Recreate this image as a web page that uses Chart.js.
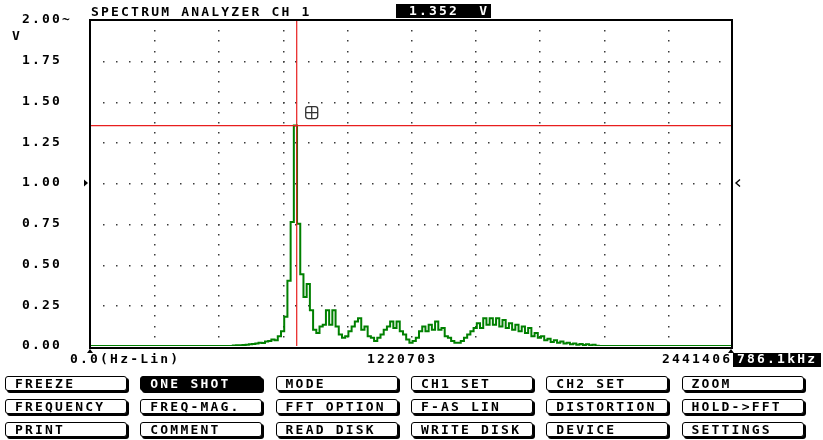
<!DOCTYPE html>
<html><head><meta charset="utf-8">
<script src="https://cdn.jsdelivr.net/npm/chart.js@4.4.1/dist/chart.umd.min.js"></script>
<style>
html,body{margin:0;padding:0;background:#fff;}
#wrap{position:relative;width:823px;height:440px;overflow:hidden;background:#fff;}
canvas{position:absolute;left:0;top:0;}
.t{position:absolute;font-family:'DejaVu Sans Mono',monospace;font-weight:bold;font-size:13px;letter-spacing:2.2px;color:#000;white-space:pre;line-height:14px;}
.inv{background:#000;color:#fff;}
.btn{position:absolute;box-sizing:border-box;width:122px;height:15px;border:1px solid #000;border-radius:3px;box-shadow:2px 2px 0 #000;background:#fff;font-family:'DejaVu Sans Mono',monospace;font-weight:bold;font-size:13px;letter-spacing:2.2px;line-height:13px;padding-left:9px;white-space:pre;color:#000;}
.btn.on{background:#000;color:#fff;}
</style></head>
<body>
<div id="wrap">
<canvas id="c" width="823" height="440"></canvas>
</div>
<script>
// ---- data ----
const TITLE = 'SPECTRUM ANALYZER CH 1';
const Y_UNIT = 'V';
const F_MAX = 2441406;               // Hz, right edge of the axis
const BIN_HZ = 12207.03;             // spacing of the spectrum samples
const X_TICKS = [0, 1220703, 2441406];
const X_LABELS = ['0.0(Hz-Lin)', '1220703', '2441406'];
const CURSOR_HZ = 786100;
const CURSOR_LABEL = '786.1kHz';
const CURSOR_V = 1.352;
const READOUT = '1.352  V';
const MARK_V = 1.0;
// spectrum magnitude (V), one value per bin
const volts = [
 0,0,0,0,0,0,0,0,0,0,
 0,0,0,0,0,0,0,0,0,0,
 0,0,0,0,0,0,0,0,0,0,
 0,0,0,0,0,0,0,0,0,0,
 0,0,0,0,0,0.003,0.004,0.005,0.006,0.008,
 0.010,0.012,0.015,0.020,0.018,0.028,0.030,0.040,0.035,0.060,
 0.090,0.180,0.400,0.760,1.352,0.750,0.440,0.300,0.380,0.220,
 0.100,0.080,0.120,0.130,0.220,0.130,0.220,0.120,0.070,0.050,
 0.060,0.090,0.120,0.150,0.170,0.100,0.120,0.060,0.050,0.030,
 0.050,0.070,0.100,0.120,0.150,0.110,0.150,0.090,0.070,0.040,
 0.020,0.030,0.050,0.090,0.120,0.090,0.130,0.100,0.150,0.100,
 0.110,0.060,0.050,0.030,0.020,0.020,0.030,0.050,0.070,0.090,
 0.110,0.140,0.110,0.170,0.130,0.170,0.130,0.170,0.120,0.160,
 0.110,0.140,0.100,0.130,0.090,0.120,0.080,0.110,0.060,0.080,
 0.050,0.060,0.035,0.045,0.025,0.035,0.020,0.027,0.015,0.020,
 0.010,0.015,0.008,0.012,0.006,0.010,0.004,0.007,0.002,0,
 0,0,0,0,0,0,0,0,0,0,
 0,0,0,0,0,0,0,0,0,0,
 0,0,0,0,0,0,0,0,0,0,
 0,0,0,0,0,0,0,0,0,0,
 0
];
const BUTTONS = [
 ['FREEZE','ONE SHOT','MODE','CH1 SET','CH2 SET','ZOOM'],
 ['FREQUENCY','FREQ-MAG.','FFT OPTION','F-AS LIN','DISTORTION','HOLD->FFT'],
 ['PRINT','COMMENT','READ DISK','WRITE DISK','DEVICE','SETTINGS']
];
const ACTIVE_BUTTON = 'ONE SHOT';

// ---- page furniture (HTML text) ----
const wrap = document.getElementById('wrap');
function addText(txt, cls, css){
  const d = document.createElement('div');
  d.className = cls; d.textContent = txt;
  Object.assign(d.style, css); wrap.appendChild(d); return d;
}
addText(TITLE, 't', {left:'91px', top:'5px'});
addText(READOUT, 't inv', {left:'396px', top:'4px', width:'95px', height:'14px', paddingLeft:'13px', boxSizing:'border-box'});
addText(Y_UNIT, 't', {left:'12px', top:'29px'});
BUTTONS.forEach((row, r) => row.forEach((lab, c) => {
  const d = document.createElement('div');
  d.className = 'btn' + (lab === ACTIVE_BUTTON ? ' on' : '');
  d.textContent = lab;
  d.style.left = (5 + c * 135.3) + 'px';
  d.style.top = (376 + r * 23) + 'px';
  wrap.appendChild(d);
}));

// ---- chart ----
const points = volts.map((v, i) => ({x: i * BIN_HZ, y: v}));
const FONT = 'bold 13px "DejaVu Sans Mono"';
const SPACING = '2.2px';

const scopePlugin = {
  id: 'scope',
  beforeUpdate(chart){ chart.ctx.letterSpacing = SPACING; },
  beforeDraw(chart){ chart.ctx.letterSpacing = SPACING; },
  beforeDatasetsDraw(chart){
    const {ctx, scales: {x, y}} = chart;
    ctx.save();
    ctx.fillStyle = '#3a3a3a';
    const xDiv = F_MAX / 10, yDiv = 0.25;
    for (let k = 1; k < 10; k++) {
      const px = Math.round(x.getPixelForValue(k * xDiv));
      for (let v = yDiv / 4; v < 2; v += yDiv / 4) {
        ctx.fillRect(px, Math.round(y.getPixelForValue(v)), 1.5, 1.5);
      }
    }
    for (let k = 1; k < 8; k++) {
      const py = Math.round(y.getPixelForValue(k * yDiv));
      for (let j = 1; j < 50; j++) {
        ctx.fillRect(Math.round(x.getPixelForValue(j * xDiv / 5)), py, 1.5, 1.5);
      }
    }
    ctx.restore();
  },
  afterDatasetsDraw(chart){
    const {ctx, chartArea: a, scales: {x, y}} = chart;
    ctx.save();
    const xc = x.getPixelForValue(CURSOR_HZ);
    const yc = y.getPixelForValue(CURSOR_V);
    ctx.strokeStyle = 'rgb(232,30,30)';
    ctx.lineWidth = 1.2;
    ctx.beginPath();
    ctx.moveTo(xc, a.top); ctx.lineTo(xc, a.bottom);
    ctx.moveTo(a.left, yc); ctx.lineTo(a.right, yc);
    ctx.stroke();
    ctx.strokeStyle = '#000';
    ctx.lineWidth = 2;
    ctx.beginPath();
    ctx.moveTo(a.left, a.bottom + 2); ctx.lineTo(a.left, a.top);
    ctx.lineTo(a.right, a.top); ctx.lineTo(a.right, a.bottom + 2);
    ctx.moveTo(a.left - 1, a.bottom + 2); ctx.lineTo(a.right + 1, a.bottom + 2);
    ctx.stroke();
    ctx.fillStyle = '#000';
    const ym = y.getPixelForValue(MARK_V);
    ctx.beginPath();
    ctx.moveTo(a.left - 6, ym - 3.5); ctx.lineTo(a.left - 6, ym + 3.5); ctx.lineTo(a.left - 2, ym); ctx.closePath(); ctx.fill();
    ctx.lineWidth = 1.4;
    ctx.beginPath();
    ctx.moveTo(a.right + 8, ym - 3.5); ctx.lineTo(a.right + 4, ym); ctx.lineTo(a.right + 8, ym + 3.5); ctx.stroke();
    [x.getPixelForValue(0), x.getPixelForValue(F_MAX) - 1].forEach(px => {
      ctx.beginPath();
      ctx.moveTo(px - 3, a.bottom + 7); ctx.lineTo(px + 3, a.bottom + 7); ctx.lineTo(px, a.bottom + 3); ctx.closePath(); ctx.fill();
    });
    const ix = xc + 9, iy = yc - 19, s = 12;
    ctx.strokeStyle = '#333'; ctx.lineWidth = 1.3;
    ctx.beginPath();
    ctx.roundRect(ix, iy, s, s, 2.5);
    ctx.moveTo(ix + s / 2, iy); ctx.lineTo(ix + s / 2, iy + s);
    ctx.moveTo(ix, iy + s / 2); ctx.lineTo(ix + s, iy + s / 2);
    ctx.stroke();
    ctx.font = FONT;
    ctx.letterSpacing = SPACING;
    ctx.textBaseline = 'middle';
    ctx.textAlign = 'left';
    ctx.fillStyle = '#000';
    const ly = a.bottom + 14;
    const offs = [-20, -44, -70];
    X_TICKS.forEach((t, i) => ctx.fillText(X_LABELS[i], x.getPixelForValue(t) + offs[i], ly));
    const bx = x.getPixelForValue(F_MAX) + 1;
    ctx.fillRect(bx, ly - 7, 88, 14);
    ctx.fillStyle = '#fff';
    ctx.fillText(CURSOR_LABEL, bx + 4, ly);
    ctx.restore();
  }
};

new Chart(document.getElementById('c'), {
  type: 'line',
  data: {datasets: [{
    data: points,
    borderColor: 'rgb(0,128,0)',
    borderWidth: 2,
    stepped: 'middle',
    pointRadius: 0,
    fill: false
  }]},
  options: {
    responsive: false,
    animation: false,
    events: [],
    layout: {padding: {left: 22, right: 91, top: 20, bottom: 94}},
    plugins: {legend: {display: false}, tooltip: {enabled: false}},
    scales: {
      x: {type: 'linear', display: false, min: 0, max: F_MAX},
      y: {
        min: 0, max: 2,
        grid: {display: false, drawTicks: false},
        border: {display: false},
        ticks: {
          stepSize: 0.25, padding: 0, crossAlign: 'far', color: '#000',
          font: {family: 'DejaVu Sans Mono', weight: 'bold', size: 13},
          callback: v => v === 2 ? '2.00~' : Number(v).toFixed(2)
        },
        afterFit: s => { s.width = 68; }
      }
    }
  },
  plugins: [scopePlugin]
});
</script>
</body></html>
